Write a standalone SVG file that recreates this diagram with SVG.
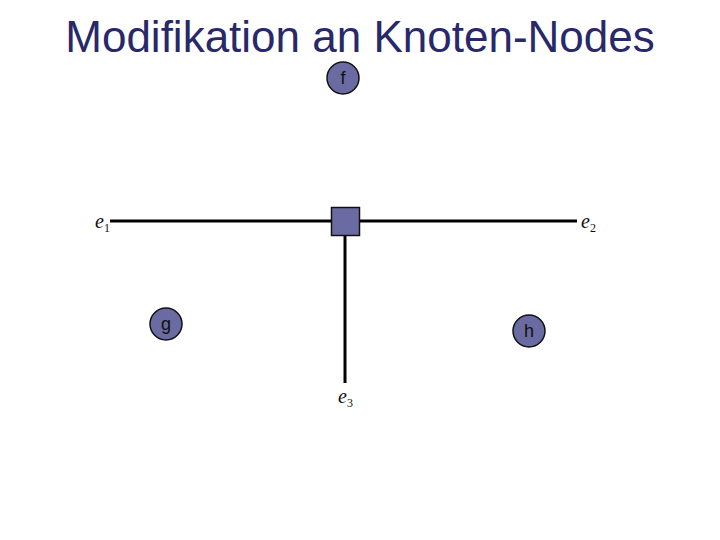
<svg xmlns="http://www.w3.org/2000/svg" width="720" height="540" viewBox="0 0 720 540">
<style>
.title{font-family:"Liberation Sans",Arial,sans-serif;font-size:44px;fill:#28286a}
.node{fill:#6b6ba3;stroke:#111;stroke-width:1.5}
.nl{font-family:"Liberation Sans",Arial,sans-serif;font-size:18px;fill:#111;text-anchor:middle}
.edge{stroke:#000;stroke-width:3;fill:none}
.el{font-family:"Liberation Serif","Times New Roman",serif;font-style:italic;font-size:20px;fill:#111}
.sub{font-style:normal;font-size:12px}
</style>
<rect width="720" height="540" fill="#fff"/>
<text class="title" x="360" y="52" text-anchor="middle">Modifikation an Knoten-Nodes</text>
<g id="connectors">
<line class="edge" x1="110" y1="221" x2="331" y2="221"/>
<line class="edge" x1="360" y1="221" x2="577" y2="221"/>
<line class="edge" x1="345" y1="236" x2="345" y2="383"/>
</g>
<g id="node-f"><circle class="node" cx="343" cy="78" r="16"/><text class="nl" x="343" y="84">f</text></g>
<g id="node-center"><rect class="node" x="331.5" y="207.5" width="28" height="28"/></g>
<g id="node-g"><circle class="node" cx="166" cy="324" r="16"/><text class="nl" x="166" y="330">g</text></g>
<g id="node-h"><circle class="node" cx="529" cy="331" r="16"/><text class="nl" x="529" y="337">h</text></g>
<g id="label-e1"><text class="el" x="95" y="228">e<tspan class="sub" dy="4">1</tspan></text></g>
<g id="label-e2"><text class="el" x="581" y="228">e<tspan class="sub" dy="4">2</tspan></text></g>
<g id="label-e3"><text class="el" x="338" y="403">e<tspan class="sub" dy="4">3</tspan></text></g>
</svg>
